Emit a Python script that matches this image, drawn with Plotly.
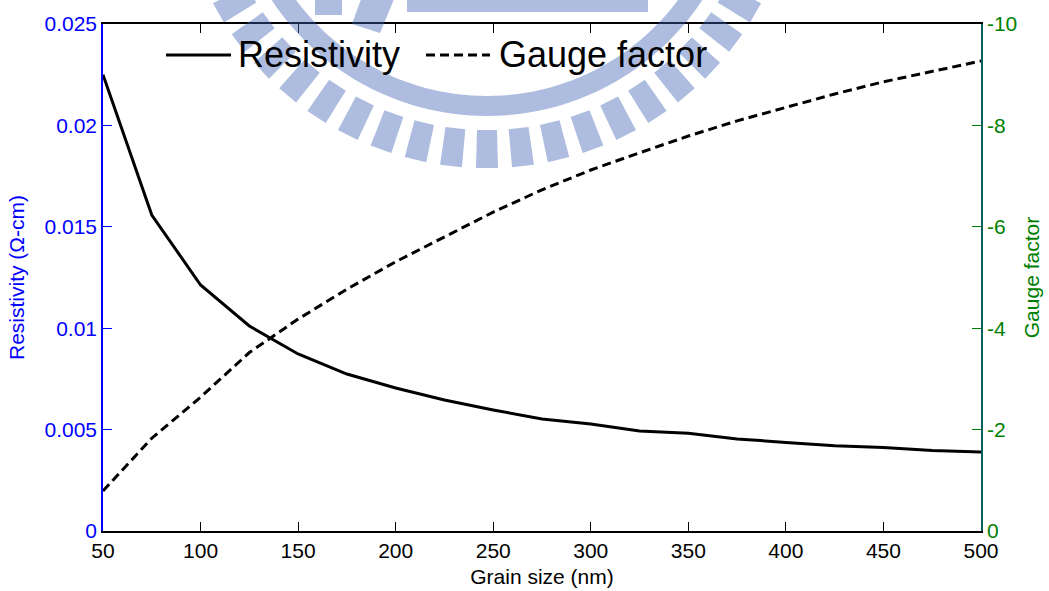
import math
import plotly.graph_objects as go

# ---------------- data ----------------
grain_size = [50, 75, 100, 125, 150, 175, 200, 225, 250, 275, 300,
              325, 350, 375, 400, 425, 450, 475, 500]
resistivity = [0.0225, 0.01558, 0.01213, 0.01011, 0.00873, 0.00774, 0.00705,
               0.00646, 0.00597, 0.00552, 0.00528, 0.00493, 0.00482, 0.00454,
               0.00437, 0.00420, 0.00412, 0.00397, 0.00390]
gauge_factor = [-0.79, -1.83, -2.64, -3.52, -4.18, -4.77, -5.31, -5.80, -6.29,
                -6.73, -7.12, -7.46, -7.79, -8.09, -8.36, -8.62, -8.86, -9.07,
                -9.27]

x_ticks = [50, 100, 150, 200, 250, 300, 350, 400, 450, 500]
y1_ticks = [0, 0.005, 0.01, 0.015, 0.02, 0.025]
y1_labels = ["0", "0.005", "0.01", "0.015", "0.02", "0.025"]
y2_ticks = [0, -2, -4, -6, -8, -10]
y2_labels = ["0", "-2", "-4", "-6", "-8", "-10"]

# ---------------- layout geometry ----------------
W, H = 1049, 591
L, R, T, B = 103, 68, 24, 60
PW, PH = W - L - R, H - T - B

FONT = "Liberation Sans, Arial, sans-serif"
BLUE = "#0000ff"
GREEN = "#008000"
FS = 21


def px(xp):
    return (xp - L) / PW


def py(yp):
    return (H - B - yp) / PH


fig = go.Figure()
fig.add_trace(go.Scatter(x=grain_size, y=resistivity, mode="lines",
                         name="Resistivity",
                         line=dict(color="black", width=3), showlegend=False))
fig.add_trace(go.Scatter(x=grain_size, y=gauge_factor, mode="lines",
                         name="Gauge factor", yaxis="y2",
                         line=dict(color="black", width=3, dash="9px,5px"),
                         showlegend=False))

shapes = []
annotations = []

# ---------------- manual legend ----------------
shapes.append(dict(type="line", xref="paper", yref="paper",
                   x0=px(166), x1=px(231), y0=py(55), y1=py(55),
                   line=dict(color="black", width=3)))
shapes.append(dict(type="line", xref="paper", yref="paper",
                   x0=px(426), x1=px(490), y0=py(55), y1=py(55),
                   line=dict(color="black", width=3, dash="9px,5px")))
annotations.append(dict(text="Resistivity", xref="paper", yref="paper",
                        x=px(236), y=py(55), xanchor="left", yanchor="middle",
                        showarrow=False, font=dict(family=FONT, size=36, color="black")))
annotations.append(dict(text="Gauge factor", xref="paper", yref="paper",
                        x=px(497), y=py(55), xanchor="left", yanchor="middle",
                        showarrow=False, font=dict(family=FONT, size=36, color="black")))

# ---------------- watermark (decorative logo) ----------------
WM_COLOR = "rgb(60,95,178)"
WM_OP = 0.42
cx, cy = 487, -142


def pt(r, a):
    # a measured from straight down, positive to the right
    return cx + r * math.sin(a), cy + r * math.cos(a)


def path_from(points):
    return "M " + " L ".join(f"{px(x):.5f},{py(y):.5f}" for x, y in points) + " Z"


# ring band
r_in, r_out = 238, 258
arc = []
n = 80
a0, a1 = math.radians(-75), math.radians(75)
for i in range(n + 1):
    a = a0 + (a1 - a0) * i / n
    arc.append(pt(r_out, a))
for i in range(n + 1):
    a = a1 - (a1 - a0) * i / n
    arc.append(pt(r_in, a))
shapes.append(dict(type="path", xref="paper", yref="paper", path=path_from(arc),
                   fillcolor=WM_COLOR, opacity=WM_OP, line=dict(width=0), layer="above"))

# teeth
step = math.radians(6.67)
for k in range(-12, 13):
    a = k * step
    ux, uy = math.sin(a), math.cos(a)
    vx, vy = math.cos(a), -math.sin(a)
    r1, r2 = 272, 310
    w1, w2 = 10.0, 11.0
    pts = [(cx + r1 * ux - w1 * vx, cy + r1 * uy - w1 * vy),
           (cx + r2 * ux - w2 * vx, cy + r2 * uy - w2 * vy),
           (cx + r2 * ux + w2 * vx, cy + r2 * uy + w2 * vy),
           (cx + r1 * ux + w1 * vx, cy + r1 * uy + w1 * vy)]
    shapes.append(dict(type="path", xref="paper", yref="paper", path=path_from(pts),
                       fillcolor=WM_COLOR, opacity=WM_OP, line=dict(width=0), layer="above"))

# inner pieces at the top
inner = [
    [(407, -20), (648, -20), (648, 12), (407, 12)],
    [(315, -20), (342, -20), (342, 15), (315, 15)],
    [(368, -20), (402, -20), (380, 33), (352, 24)],
]
for pts in inner:
    shapes.append(dict(type="path", xref="paper", yref="paper", path=path_from(pts),
                       fillcolor=WM_COLOR, opacity=WM_OP, line=dict(width=0), layer="above"))

# ---------------- axes ----------------
fig.update_layout(
    width=W, height=H,
    margin=dict(l=L, r=R, t=T, b=B, pad=0, autoexpand=False),
    paper_bgcolor="white", plot_bgcolor="white",
    font=dict(family=FONT, size=FS, color="black"),
    showlegend=False,
    xaxis=dict(range=[50, 500], tickvals=x_ticks, ticks="inside", ticklen=9,
               tickcolor="black", showline=True, linecolor="black", linewidth=1.5,
               mirror="ticks", showgrid=False, zeroline=False, automargin=False,
               tickfont=dict(size=FS, color="black"),
               title=dict(text="Grain size (nm)", font=dict(size=FS, color="black"),
                          standoff=8)),
    yaxis=dict(range=[0, 0.025], tickvals=y1_ticks, ticktext=y1_labels,
               ticks="inside", ticklen=9, tickcolor=BLUE,
               showline=True, linecolor=BLUE, linewidth=1.5,
               showgrid=False, zeroline=False, automargin=False,
               tickfont=dict(size=FS, color=BLUE),
               title=dict(text="Resistivity (Ω-cm)", font=dict(size=FS, color=BLUE),
                          standoff=14)),
    yaxis2=dict(range=[0, -10], tickvals=y2_ticks, ticktext=y2_labels,
                overlaying="y", side="right", anchor="x",
                ticks="inside", ticklen=9, tickcolor=GREEN,
                showline=True, linecolor="#0a5f5f", linewidth=1.5,
                showgrid=False, zeroline=False, automargin=False,
                tickfont=dict(size=FS, color=GREEN),
                title=dict(text="Gauge factor", font=dict(size=FS, color=GREEN),
                           standoff=8)),
    shapes=shapes,
    annotations=annotations,
)

fig.write_html("out.html", config={"displayModeBar": False},
               post_script="document.body.style.margin='0';document.body.style.overflow='hidden';")
